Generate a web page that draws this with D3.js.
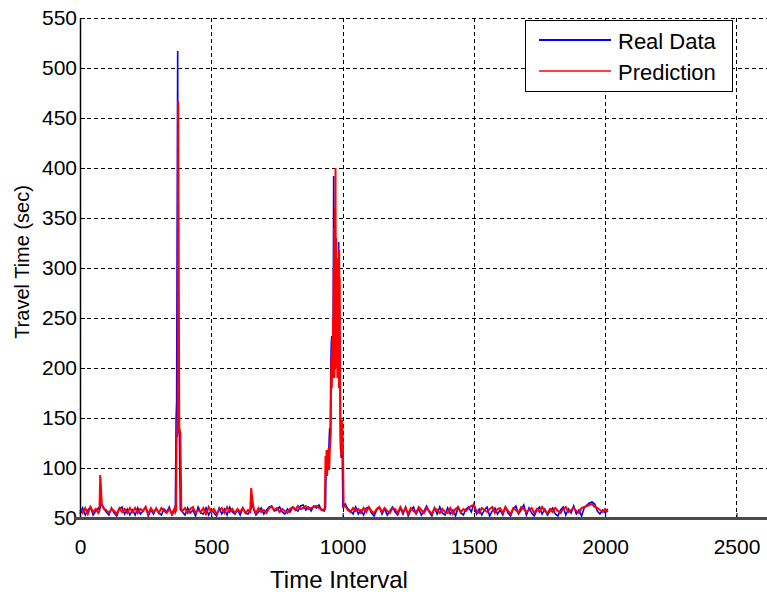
<!DOCTYPE html>
<head>
<meta charset="utf-8">
<style>
body { margin: 0; background: #fff; }
svg text { font-family: "Liberation Sans", Arial, sans-serif; fill: #000; }
svg .grid { stroke: #000; stroke-width: 1px; stroke-dasharray: 4,3; }
svg .real { stroke: #0000ff; stroke-width: 1.6px; fill: none; }
svg .pred { stroke: #ff0000; stroke-width: 2px; fill: none; }
</style>
</head>
<body>
<script src="https://d3js.org/d3.v7.min.js"></script>
<script>
  // axis ranges and ticks
  var xTicks = [0, 500, 1000, 1500, 2000, 2500];
  var yTicks = [50, 100, 150, 200, 250, 300, 350, 400, 450, 500, 550];
  var seriesNames = ["Real Data", "Prediction"];

  // baseline samples, one every 10 intervals from t = 0 to 2010
  var baseStep = 10;
  var realBase = [
    54,60,53,58,61,53,57,60,62,64,56,53,60,55,52,59,61,54,59,53,
    58,53,60,54,57,61,52,58,54,60,55,53,59,56,61,53,57,60,54,58,
    53,60,55,58,52,61,55,54,60,53,58,55,52,60,54,59,53,61,56,54,
    58,53,60,55,54,61,57,53,56,60,54,58,61,62,57,58,61,56,54,59,
    56,61,59,57,62,63,58,61,57,62,60,63,58,57,61,57,59,58,60,62,
    62,64,59,57,54,61,54,58,53,60,61,55,52,58,61,54,59,53,57,61,
    56,53,60,54,61,52,58,61,54,59,53,57,62,56,52,60,54,61,55,53,
    60,54,58,52,61,55,53,59,61,56,64,54,59,53,58,61,52,57,60,54,
    58,53,61,55,52,59,62,54,58,63,53,60,55,52,58,61,54,59,53,57,
    60,54,52,58,61,53,59,55,62,54,58,52,60,63,65,66,64,57,54,58,
    55,59
  ];
  var predBase = [
    58,55,60,54,61,56,59,55,61,62,58,55,59,57,54,60,56,59,55,60,
    56,60,55,59,57,61,54,60,56,59,55,60,57,55,59,54,60,56,59,55,
    60,55,59,61,55,58,56,60,54,61,56,59,54,58,60,55,61,56,59,55,
    59,56,60,55,58,61,57,55,60,56,58,55,60,61,58,60,56,59,57,55,
    59,61,58,62,59,60,62,59,60,61,62,60,58,59,60,58,57,59,60,61,
    63,62,58,56,60,57,59,55,60,56,61,57,55,59,61,56,60,57,55,60,
    59,55,61,56,60,54,60,57,55,61,58,55,60,57,54,60,58,55,59,56,
    55,60,54,59,61,56,59,57,60,62,63,57,55,60,58,56,59,61,55,59,
    60,55,61,57,54,60,58,55,61,59,56,58,60,55,59,56,61,57,55,59,
    56,60,57,55,59,61,56,58,60,57,55,60,61,62,63,64,61,60,58,56,
    59,56
  ];

  // congestion events, denser samples: [t, real, prediction]
  var eventWindows = [[72, 92], [361, 391], [646, 664], [931, 1004]];
  var eventSamples = [
    [74, 58, 57], [77, 60, 93], [80, 65, 80], [83, 63, 64], [87, 62, 61], [91, 60, 59],
    [363, 57, 56], [366, 150, 58], [368, 166, 130], [372, 517, 135], [374, 135, 467],
    [378, 140, 140], [382, 58, 135], [386, 57, 58], [390, 56, 57],
    [648, 57, 56], [652, 60, 80], [655, 66, 72], [658, 62, 65], [662, 58, 59],
    [932, 59, 58], [935, 60, 112], [937, 100, 95], [939, 110, 118], [941, 95, 92],
    [943, 118, 115], [945, 105, 100], [947, 112, 120], [949, 130, 98], [951, 140, 116],
    [953, 135, 125], [955, 200, 135], [957, 226, 210], [959, 232, 180], [961, 215, 230],
    [963, 228, 190], [964, 240, 250], [965, 300, 200], [966, 392, 300], [967, 330, 220],
    [968, 270, 340], [969, 310, 190], [970, 250, 280], [971, 290, 360], [972, 230, 230],
    [973, 300, 400], [974, 275, 260], [975, 220, 330], [976, 290, 200], [977, 250, 290],
    [978, 280, 240], [979, 230, 310], [980, 260, 190], [981, 210, 280], [982, 250, 220],
    [983, 230, 300], [984, 270, 200], [985, 326, 260], [986, 240, 180], [987, 200, 318],
    [988, 260, 230], [989, 210, 290], [990, 230, 190], [992, 120, 135], [995, 110, 113],
    [998, 130, 148], [1001, 62, 125], [1004, 63, 61]
  ];

  // merge baseline with event samples
  function inEvent(t) {
    return eventWindows.some(function (w) { return t >= w[0] && t <= w[1]; });
  }
  var rows = [];
  realBase.forEach(function (v, i) {
    var t = i * baseStep;
    if (!inEvent(t)) rows.push({ t: t, real: v, pred: predBase[i] });
  });
  eventSamples.forEach(function (d) {
    rows.push({ t: d[0], real: d[1], pred: d[2] });
  });
  rows.sort(function (a, b) { return a.t - b.t; });

  var width = 767, height = 598;
  var plot = { left: 80, right: 768, top: 18, bottom: 518 };

  var svg = d3.select("body").append("svg")
      .attr("width", width)
      .attr("height", height);

  var xScale = d3.scaleLinear().domain([0, 2620]).range([plot.left, plot.right]);
  var yScale = d3.scaleLinear().domain([50, 550]).range([plot.bottom, plot.top]);

  // grid lines
  svg.append("g").selectAll("line")
    .data(yTicks.slice(1))
    .enter().append("line")
      .classed("grid", true)
      .attr("x1", plot.left).attr("x2", width)
      .attr("y1", function (d) { return yScale(d) + 0.5; })
      .attr("y2", function (d) { return yScale(d) + 0.5; });

  svg.append("g").selectAll("line")
    .data(xTicks.slice(1))
    .enter().append("line")
      .classed("grid", true)
      .attr("x1", function (d) { return Math.round(xScale(d)) + 0.5; })
      .attr("x2", function (d) { return Math.round(xScale(d)) + 0.5; })
      .attr("y1", plot.top).attr("y2", plot.bottom);

  // data lines
  var realLine = d3.line()
    .x(function (d) { return xScale(d.t); })
    .y(function (d) { return yScale(d.real); });
  var predLine = d3.line()
    .x(function (d) { return xScale(d.t); })
    .y(function (d) { return yScale(d.pred); });

  svg.append("path").classed("real", true).attr("d", realLine(rows));
  svg.append("path").classed("pred", true).attr("d", predLine(rows));

  // x axis
  var xAxis = d3.axisBottom(xScale)
    .tickValues(xTicks)
    .tickFormat(d3.format("d"))
    .tickSizeInner(-5)
    .tickSizeOuter(0)
    .tickPadding(21);
  var xg = svg.append("g")
      .attr("transform", "translate(0," + plot.bottom + ")")
      .call(xAxis);
  xg.select(".domain").remove();
  xg.selectAll(".tick line").attr("stroke", "#000");
  xg.selectAll(".tick text").style("font-size", "21px");

  // y axis
  var yAxis = d3.axisLeft(yScale)
    .tickValues(yTicks)
    .tickSizeInner(-5)
    .tickSizeOuter(0)
    .tickPadding(3);
  var yg = svg.append("g")
      .attr("transform", "translate(" + plot.left + ",0)")
      .call(yAxis);
  yg.select(".domain").attr("stroke", "#000").attr("stroke-width", 1.5);
  yg.selectAll(".tick line").attr("stroke", "#000");
  yg.selectAll(".tick text").style("font-size", "21px");

  // thick bottom axis line
  svg.append("line")
    .attr("x1", 75).attr("x2", width)
    .attr("y1", plot.bottom + 0.5).attr("y2", plot.bottom + 0.5)
    .attr("stroke", "#4a4a4a")
    .attr("stroke-width", 3);

  // axis titles
  svg.append("text")
    .attr("x", 339)
    .attr("y", 588)
    .attr("text-anchor", "middle")
    .style("font-size", "24px")
    .text("Time Interval");

  svg.append("text")
    .attr("transform", "translate(29,262) rotate(-90)")
    .attr("text-anchor", "middle")
    .style("font-size", "20px")
    .text("Travel Time (sec)");

  // legend
  var legend = svg.append("g");
  legend.append("rect")
    .attr("x", 525.5).attr("y", 20.5)
    .attr("width", 207).attr("height", 71)
    .attr("fill", "#fff")
    .attr("stroke", "#000");
  var legendColors = ["#0000ff", "#ff0000"];
  var legendY = d3.scaleOrdinal().domain(seriesNames).range([40, 71]);
  seriesNames.forEach(function (name, i) {
    legend.append("line")
      .attr("x1", 539).attr("x2", 611)
      .attr("y1", legendY(name)).attr("y2", legendY(name))
      .attr("stroke", legendColors[i])
      .attr("stroke-width", i === 0 ? 2 : 1.5);
    legend.append("text")
      .attr("x", 618)
      .attr("y", legendY(name) + 9)
      .style("font-size", "22px")
      .text(name);
  });
</script>
</body>
</html>
